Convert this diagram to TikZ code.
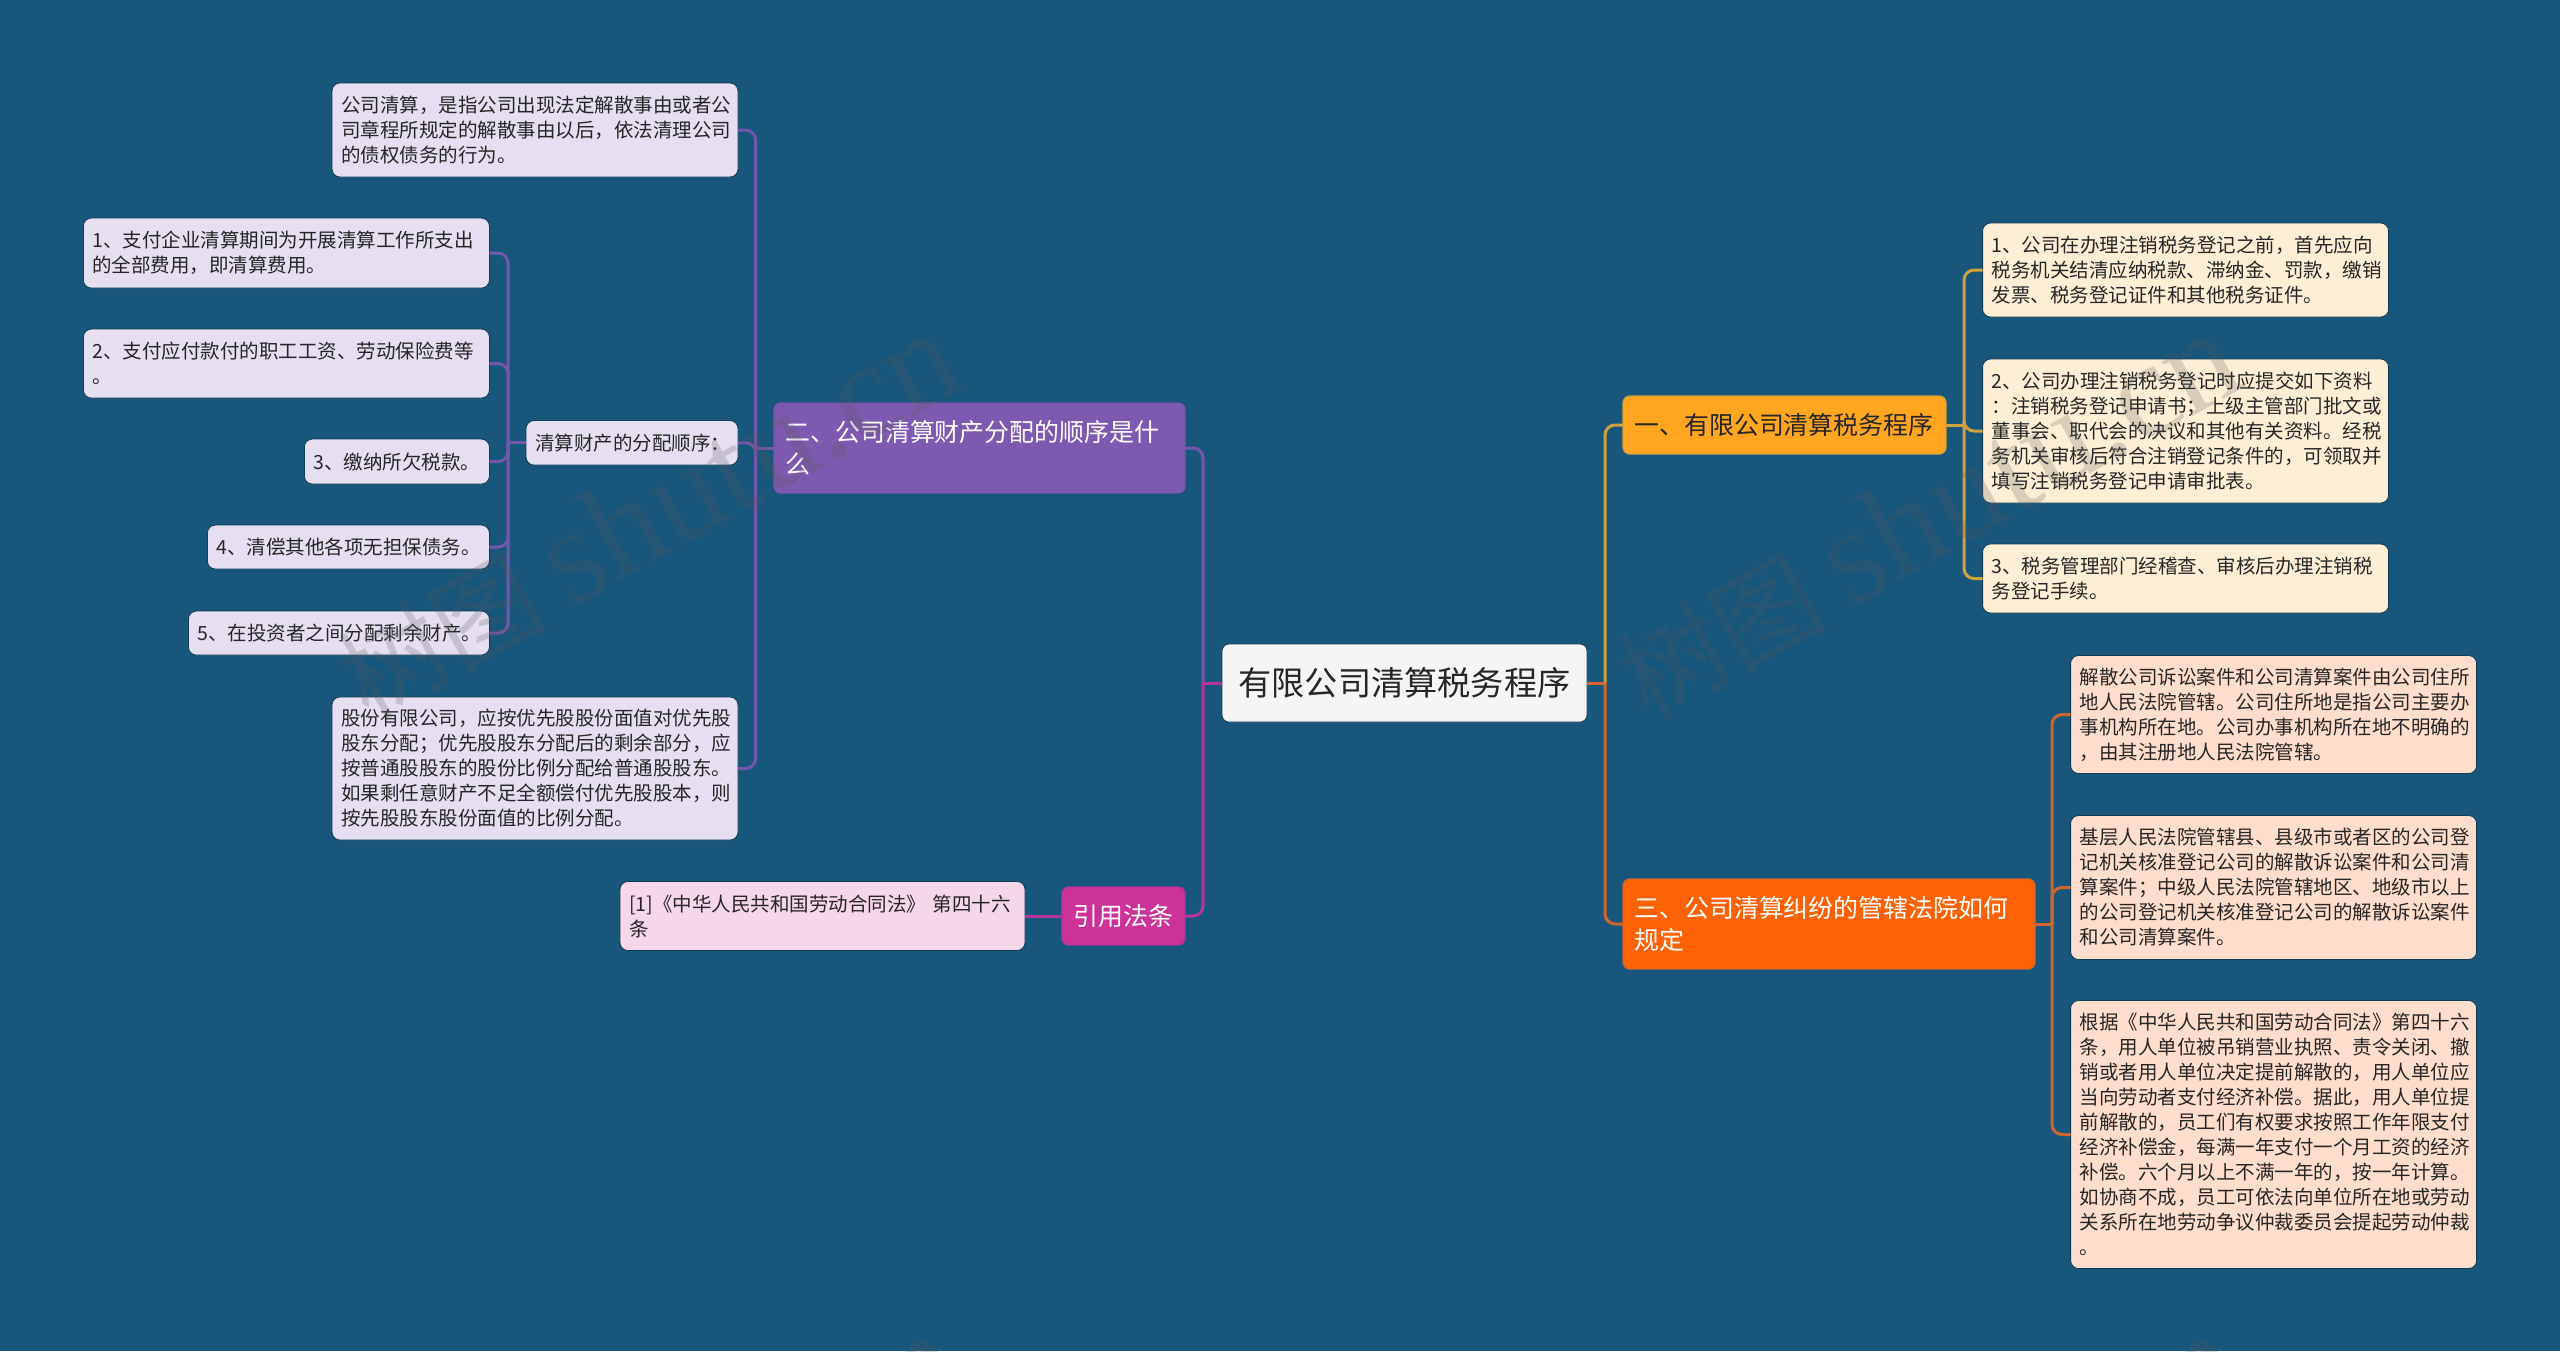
\documentclass[tikz,border=0pt]{standalone}
\usepackage{fontspec}
\setmainfont{Noto Sans CJK SC}
\newfontfamily\markfont{Liberation Serif}
\usepackage{xcolor}
\usepackage{tikz}
\usetikzlibrary{positioning}
\definecolor{canvas}{HTML}{18567B}
\definecolor{inkdark}{HTML}{262626}
\definecolor{amberfill}{HTML}{FFA51F}
\definecolor{amberline}{HTML}{CFA23E}
\definecolor{amberpale}{HTML}{FDEFD6}
\definecolor{flamefill}{HTML}{FF6105}
\definecolor{flameline}{HTML}{D0662E}
\definecolor{flamepale}{HTML}{FFDDCC}
\definecolor{grapefill}{HTML}{7E59B0}
\definecolor{grapeline}{HTML}{7357AC}
\definecolor{grapepale}{HTML}{E5DFF1}
\definecolor{rosefill}{HTML}{CC3399}
\definecolor{roseline}{HTML}{B7359B}
\definecolor{rosepale}{HTML}{F5D6EA}

\begin{document}
\begin{tikzpicture}
            \tikzstyle{hub} = [rectangle, rounded corners=3.5pt, fill=white!96!black, draw=canvas!70!black, line width=.4pt, text=inkdark, inner xsep=8.25pt, inner ysep=0pt, outer sep=0pt, align=center, font=\fontsize{16.6pt}{21pt}\selectfont]
            \tikzstyle{branch} = [rectangle, rounded corners=3.5pt, line width=.7pt, text=white, inner xsep=5.75pt, inner ysep=0pt, outer sep=0pt, align=left, font=\fontsize{12.45pt}{16.3pt}\selectfont]
            \tikzstyle{leaf} = [rectangle, rounded corners=4pt, draw=canvas!70!black, line width=.4pt, text=inkdark, inner xsep=4.5pt, inner ysep=0pt, outer sep=0pt, align=left, font=\fontsize{9.75pt}{12.5pt}\selectfont]
            \tikzstyle{link} = [line width=1.5pt, rounded corners=5pt]
            \tikzstyle{stem} = [line width=1.5pt]
            \tikzstyle{stamp} = [text=black!65, text opacity=.22, rotate=29.3, font=\fontsize{52pt}{52pt}\selectfont]

            \useasboundingbox (0,0) rectangle (1280pt,-675.5pt);
            \fill[canvas] (0,0) rectangle (1280pt,-675.5pt);

            \node [hub, text width=166pt, minimum height=39pt] (root) at (702.25pt,-341.5pt) {有限公司清算税务程序};

            % right side
            \node [branch, fill=amberfill, draw=amberline, text=inkdark, above right = 95pt and 18pt of root, text width=150pt, minimum height=29pt] (tax) {一、有限公司清算税务程序};
            \node [branch, fill=flamefill, draw=flameline, below right = 78.5pt and 18pt of root, text width=194.5pt, minimum height=45pt] (court) {三、公司清算纠纷的管辖法院如何\\规定};

            \node [leaf, fill=amberpale, above right = 39.5pt and 18.3pt of tax, text width=194pt, minimum height=47pt] (taxA) {1、公司在办理注销税务登记之前，首先应向\\税务机关结清应纳税款、滞纳金、罚款，缴销\\发票、税务登记证件和其他税务证件。};
            \node [leaf, fill=amberpale, below = 21pt of taxA, text width=194pt, minimum height=72pt] (taxB) {2、公司办理注销税务登记时应提交如下资料\\：注销税务登记申请书；上级主管部门批文或\\董事会、职代会的决议和其他有关资料。经税\\务机关审核后符合注销登记条件的，可领取并\\填写注销税务登记申请审批表。};
            \node [leaf, fill=amberpale, below = 20.5pt of taxB, text width=194pt, minimum height=34.5pt] (taxC) {3、税务管理部门经稽查、审核后办理注销税\\务登记手续。};

            \node [leaf, fill=flamepale, above right = 52.75pt and 17.8pt of court, text width=194pt, minimum height=59pt] (courtA) {解散公司诉讼案件和公司清算案件由公司住所\\地人民法院管辖。公司住所地是指公司主要办\\事机构所在地。公司办事机构所在地不明确的\\，由其注册地人民法院管辖。};
            \node [leaf, fill=flamepale, below = 21pt of courtA, text width=194pt, minimum height=72pt] (courtB) {基层人民法院管辖县、县级市或者区的公司登\\记机关核准登记公司的解散诉讼案件和公司清\\算案件；中级人民法院管辖地区、地级市以上\\的公司登记机关核准登记公司的解散诉讼案件\\和公司清算案件。};
            \node [leaf, fill=flamepale, below = 20.5pt of courtB, text width=194pt, minimum height=134pt] (courtC) {根据《中华人民共和国劳动合同法》第四十六\\条，用人单位被吊销营业执照、责令关闭、撤\\销或者用人单位决定提前解散的，用人单位应\\当向劳动者支付经济补偿。据此，用人单位提\\前解散的，员工们有权要求按照工作年限支付\\经济补偿金，每满一年支付一个月工资的经济\\补偿。六个月以上不满一年的，按一年计算。\\如协商不成，员工可依法向单位所在地或劳动\\关系所在地劳动争议仲裁委员会提起劳动仲裁\\。};

            % left side
            \node [branch, fill=grapefill, draw=grapeline, above left = 75.5pt and 18.5pt of root, text width=194pt, minimum height=45pt] (assets) {二、公司清算财产分配的顺序是什\\么};
            \node [branch, fill=rosefill, draw=roseline, below left = 82.5pt and 18.5pt of root, text width=50pt, minimum height=29pt] (cite) {引用法条};
            \node [leaf, fill=rosepale, left = 18.5pt of cite, text width=193.5pt, minimum height=34.5pt] (citeNote) {[1]《中华人民共和国劳动合同法》 第四十六\\条};

            \node [leaf, fill=grapepale, above left = 113pt and 18pt of assets, text width=194pt, minimum height=47pt] (define) {公司清算，是指公司出现法定解散事由或者公\\司章程所规定的解散事由以后，依法清理公司\\的债权债务的行为。};
            \node [leaf, fill=grapepale, left = 18pt of assets, yshift=2.6pt, text width=97pt, minimum height=22.25pt] (order) {清算财产的分配顺序：};
            \node [leaf, fill=grapepale, below left = 102pt and 18pt of assets, text width=194pt, minimum height=71.5pt] (shares) {股份有限公司，应按优先股股份面值对优先股\\股东分配；优先股股东分配后的剩余部分，应\\按普通股股东的股份比例分配给普通股股东。\\如果剩任意财产不足全额偿付优先股股本，则\\按先股股东股份面值的比例分配。};

            \node [leaf, fill=grapepale, above left = 66.25pt and 18.3pt of order, text width=194pt, minimum height=35pt] (orderA) {1、支付企业清算期间为开展清算工作所支出\\的全部费用，即清算费用。};
            \node [leaf, fill=grapepale, below = 20.5pt of orderA, text width=194pt, minimum height=34.5pt] (orderB) {2、支付应付款付的职工工资、劳动保险费等\\。};
            \node [leaf, fill=grapepale, below = 20.5pt of orderB.south east, anchor=north east, text width=83.5pt, minimum height=22.5pt] (orderC) {3、缴纳所欠税款。};
            \node [leaf, fill=grapepale, below = 20.5pt of orderC.south east, anchor=north east, text width=132pt, minimum height=22pt] (orderD) {4、清偿其他各项无担保债务。};
            \node [leaf, fill=grapepale, below = 21pt of orderD.south east, anchor=north east, text width=141.5pt, minimum height=22pt] (orderE) {5、在投资者之间分配剩余财产。};

            % fork points
            \coordinate [right = 9pt of root.east] (rootRight);
            \coordinate [left = 9.5pt of root.west] (rootLeft);
            \coordinate [right = 9pt of tax.east] (taxFork);
            \coordinate [right = 8.5pt of court.east] (courtFork);
            \coordinate [left = 9.2pt of assets.west] (assetsFork);
            \coordinate [left = 9pt of order.west] (orderFork);

            \draw[link, amberline] (rootRight) |- (tax.west);
            \draw[link, flameline] (rootRight) |- (court.west);
            \draw[stem, flameline] (root.east) -- (rootRight);
            \draw[link, amberline] (taxFork) |- (taxA.west);
            \draw[link, amberline] (taxFork) |- (taxB.west);
            \draw[link, amberline] (taxFork) |- (taxC.west);
            \draw[stem, amberline] (tax.east) -- (taxFork);
            \draw[link, flameline] (courtFork) |- (courtA.west);
            \draw[link, flameline] (courtFork) |- (courtB.west);
            \draw[link, flameline] (courtFork) |- (courtC.west);
            \draw[stem, flameline] (court.east) -- (courtFork);

            \draw[link, grapeline] (rootLeft) |- (assets.east);
            \draw[link, roseline] (rootLeft) |- (cite.east);
            \draw[stem, roseline] (root.west) -- (rootLeft);
            \draw[stem, roseline] (cite.west) -- (citeNote.east);
            \draw[link, grapeline] (assetsFork) |- (define.east);
            \draw[link, grapeline] (assetsFork) |- (order.east);
            \draw[link, grapeline] (assetsFork) |- (shares.east);
            \draw[stem, grapeline] (assets.west) -- (assetsFork);
            \draw[link, grapeline] (orderFork) |- (orderA.east);
            \draw[link, grapeline] (orderFork) |- (orderB.east);
            \draw[link, grapeline] (orderFork) |- (orderC.east);
            \draw[link, grapeline] (orderFork) |- (orderD.east);
            \draw[link, grapeline] (orderFork) |- (orderE.east);
            \draw[stem, grapeline] (order.west) -- (orderFork);

            % watermark
            \node [stamp] (stampA) at (324pt,-258pt) {树图 {\fontsize{68pt}{68pt}\selectfont\markfont shutu.cn}};
            \node [stamp] (stampB) at (964pt,-258pt) {树图 {\fontsize{68pt}{68pt}\selectfont\markfont shutu.cn}};
            \node [stamp] (stampC) at (324pt,-759pt) {树图 {\fontsize{68pt}{68pt}\selectfont\markfont shutu.cn}};
            \node [stamp] (stampD) at (964pt,-759pt) {树图 {\fontsize{68pt}{68pt}\selectfont\markfont shutu.cn}};
\end{tikzpicture}
\end{document}
